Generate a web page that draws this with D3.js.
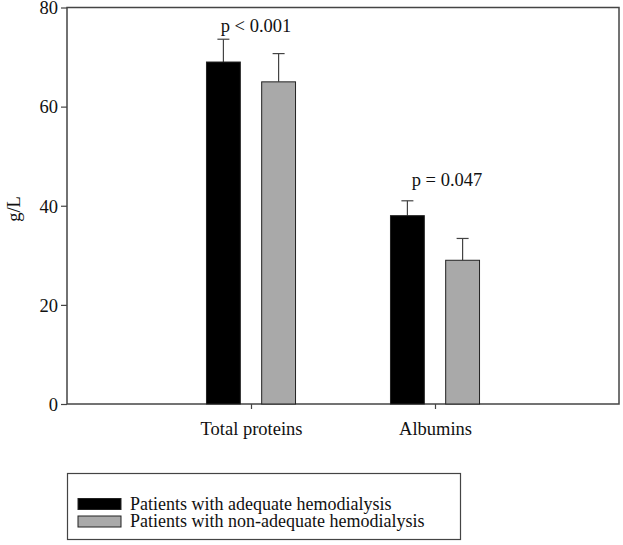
<!DOCTYPE html>
<html><head><meta charset="utf-8">
<script src="https://cdn.jsdelivr.net/npm/d3@7"></script>
<style>body{margin:0;background:#fff}svg{display:block}text{font-family:'Liberation Serif','Times New Roman',Times,serif;fill:#111}</style>
</head><body>
<svg id="c" width="623" height="545"></svg>
<script>
const categories = ["Total proteins", "Albumins"];
const seriesNames = ["Patients with adequate hemodialysis", "Patients with non-adequate hemodialysis"];
const adequate = [69.0, 38.0];
const adequateErr = [4.6, 3.0];
const nonAdequate = [65.0, 29.0];
const nonAdequateErr = [5.7, 4.4];
const pLabels = ["p < 0.001", "p = 0.047"];
const yTicks = [0, 20, 40, 60, 80];

(function () {
const svg = d3.select("#c");
const FONT = "'Liberation Serif','Times New Roman',Times,serif";
const FS = "18.5px";
const pl = 67, pr = 619, pt = 7.5, pb = 404;
const x = d3.scaleLinear().domain([-1, 2]).range([pl, pr]);
const y = d3.scaleLinear().domain([0, 80]).range([pb, pt]);
const colors = ["#000000", "#a9a9a9"];
const off = 0.15, bw = 0.184;
const lineCol = "#444";

svg.append("rect").attr("x", pl).attr("y", pt).attr("width", pr-pl).attr("height", pb-pt)
  .attr("fill", "none").attr("stroke", lineCol).attr("stroke-width", 1.5);

const ya = svg.append("g").attr("transform", `translate(${pl},0)`)
  .call(d3.axisLeft(y).tickValues(yTicks).tickSize(6).tickPadding(3));
ya.select(".domain").remove();
ya.selectAll("line").attr("stroke", lineCol).attr("stroke-width", 1.2);
ya.selectAll("text").attr("font-family", FONT).attr("font-size", FS).attr("fill", "#111").attr("dy", "0.34em");

const xa = svg.append("g").attr("transform", `translate(0,${pb})`)
  .call(d3.axisBottom(x).tickValues([0, 1]).tickFormat(i => categories[i]).tickSize(5).tickPadding(13));
xa.select(".domain").remove();
xa.selectAll("line").attr("stroke", lineCol).attr("stroke-width", 1.2);
xa.selectAll("text").attr("font-family", FONT).attr("font-size", FS).attr("fill", "#111");

const series = [[adequate, adequateErr], [nonAdequate, nonAdequateErr]];
series.forEach(([vals, errs], s) => {
  const sign = s === 0 ? -1 : 1;
  const g = svg.append("g");
  vals.forEach((v, i) => {
    const cx = x(i + sign*off);
    const w = x(bw) - x(0);
    const ey = y(v + errs[i]);
    g.append("line").attr("x1", cx).attr("x2", cx).attr("y1", y(v)).attr("y2", ey).attr("stroke", lineCol).attr("stroke-width", 1.2);
    g.append("line").attr("x1", cx-6).attr("x2", cx+6).attr("y1", ey).attr("y2", ey).attr("stroke", lineCol).attr("stroke-width", 1.2);
    g.append("rect").attr("x", cx - w/2).attr("y", y(v)).attr("width", w).attr("height", y(0) - y(v))
      .attr("fill", colors[s]).attr("stroke", "#222").attr("stroke-width", 1);
  });
});

const pdx = [5, 12], pyy = [32, 186];
pLabels.forEach((t, i) => {
  svg.append("text").attr("x", x(i) + pdx[i]).attr("y", pyy[i])
    .attr("text-anchor", "middle").attr("font-family", FONT).attr("font-size", FS).text(t);
});

svg.append("text").attr("transform", "translate(20,209) rotate(-90)").attr("text-anchor", "middle")
  .attr("font-family", FONT).attr("font-size", FS).text("g/L");

const lg = svg.append("g");
lg.append("rect").attr("x", 67.5).attr("y", 473.5).attr("width", 393).attr("height", 66)
  .attr("fill", "#fff").attr("stroke", lineCol).attr("stroke-width", 1.2);
seriesNames.forEach((n, i) => {
  const yy = 498.5 + i*17.5;
  lg.append("rect").attr("x", 78).attr("y", yy).attr("width", 43).attr("height", 11)
    .attr("fill", colors[i]).attr("stroke", "#222").attr("stroke-width", 1);
  lg.append("text").attr("x", 130).attr("y", yy + 11).attr("font-family", FONT).attr("font-size", "18px").text(n);
});
})();
</script>
</body></html>
